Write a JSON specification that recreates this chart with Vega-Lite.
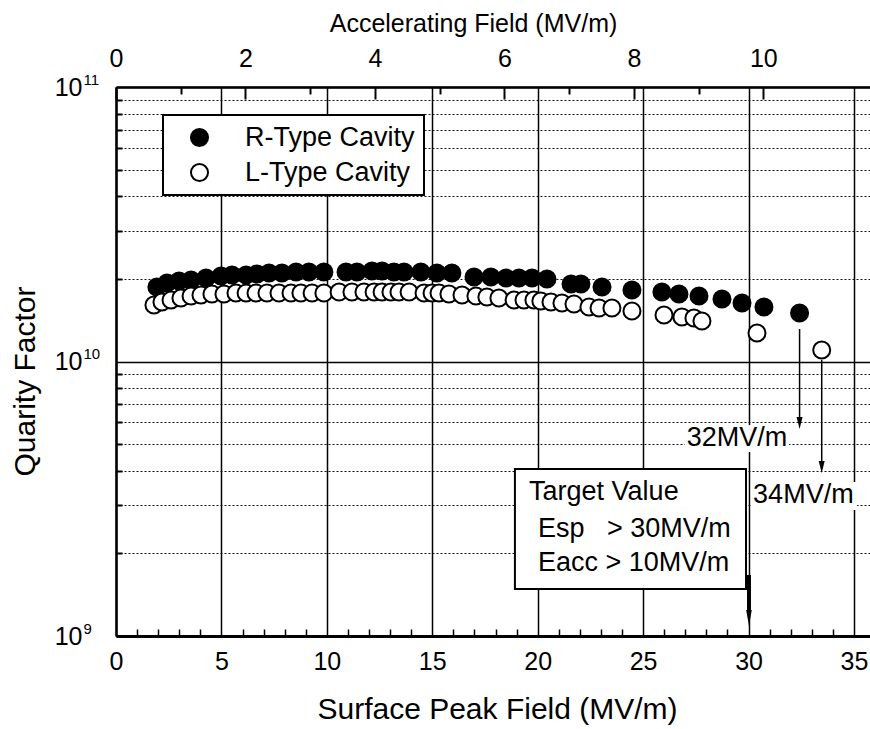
{
  "$schema": "https://vega.github.io/schema/vega-lite/v6.json",
  "width": 754,
  "height": 549,
  "autosize": {"type": "none"},
  "padding": {"left": 116, "top": 87, "right": 0, "bottom": 93},
  "background": "white",
  "config": {
    "view": {"stroke": null},
    "font": "Liberation Sans",
    "axis": {
      "labelFont": "Liberation Sans",
      "titleFont": "Liberation Sans",
      "labelColor": "black",
      "titleColor": "black",
      "titleFontWeight": "normal",
      "labelFlush": false,
      "labelOverlap": false,
      "domainColor": "black",
      "tickColor": "black",
      "gridColor": "black",
      "gridOpacity": 1
    },
    "text": {"font": "Liberation Sans", "color": "black"}
  },
  "datasets": {
    "pts": [
      {"esp": 1.94, "q": 1.868e10, "type": "R-Type Cavity"},
      {"esp": 2.42, "q": 1.932e10, "type": "R-Type Cavity"},
      {"esp": 2.99, "q": 1.965e10, "type": "R-Type Cavity"},
      {"esp": 3.56, "q": 1.981e10, "type": "R-Type Cavity"},
      {"esp": 4.27, "q": 2.015e10, "type": "R-Type Cavity"},
      {"esp": 4.98, "q": 2.049e10, "type": "R-Type Cavity"},
      {"esp": 5.50, "q": 2.066e10, "type": "R-Type Cavity"},
      {"esp": 6.17, "q": 2.066e10, "type": "R-Type Cavity"},
      {"esp": 6.69, "q": 2.084e10, "type": "R-Type Cavity"},
      {"esp": 7.26, "q": 2.101e10, "type": "R-Type Cavity"},
      {"esp": 7.87, "q": 2.101e10, "type": "R-Type Cavity"},
      {"esp": 8.54, "q": 2.119e10, "type": "R-Type Cavity"},
      {"esp": 9.15, "q": 2.119e10, "type": "R-Type Cavity"},
      {"esp": 9.86, "q": 2.119e10, "type": "R-Type Cavity"},
      {"esp": 10.91, "q": 2.119e10, "type": "R-Type Cavity"},
      {"esp": 11.43, "q": 2.119e10, "type": "R-Type Cavity"},
      {"esp": 12.14, "q": 2.137e10, "type": "R-Type Cavity"},
      {"esp": 12.62, "q": 2.137e10, "type": "R-Type Cavity"},
      {"esp": 13.18, "q": 2.119e10, "type": "R-Type Cavity"},
      {"esp": 13.66, "q": 2.119e10, "type": "R-Type Cavity"},
      {"esp": 14.46, "q": 2.119e10, "type": "R-Type Cavity"},
      {"esp": 15.22, "q": 2.101e10, "type": "R-Type Cavity"},
      {"esp": 15.93, "q": 2.101e10, "type": "R-Type Cavity"},
      {"esp": 16.98, "q": 2.032e10, "type": "R-Type Cavity"},
      {"esp": 17.78, "q": 2.032e10, "type": "R-Type Cavity"},
      {"esp": 18.50, "q": 2.015e10, "type": "R-Type Cavity"},
      {"esp": 19.11, "q": 2.015e10, "type": "R-Type Cavity"},
      {"esp": 19.73, "q": 2.015e10, "type": "R-Type Cavity"},
      {"esp": 20.44, "q": 1.998e10, "type": "R-Type Cavity"},
      {"esp": 21.58, "q": 1.916e10, "type": "R-Type Cavity"},
      {"esp": 22.05, "q": 1.916e10, "type": "R-Type Cavity"},
      {"esp": 23.05, "q": 1.868e10, "type": "R-Type Cavity"},
      {"esp": 24.47, "q": 1.822e10, "type": "R-Type Cavity"},
      {"esp": 25.89, "q": 1.791e10, "type": "R-Type Cavity"},
      {"esp": 26.70, "q": 1.762e10, "type": "R-Type Cavity"},
      {"esp": 27.65, "q": 1.732e10, "type": "R-Type Cavity"},
      {"esp": 28.74, "q": 1.689e10, "type": "R-Type Cavity"},
      {"esp": 29.69, "q": 1.633e10, "type": "R-Type Cavity"},
      {"esp": 30.73, "q": 1.580e10, "type": "R-Type Cavity"},
      {"esp": 32.42, "q": 1.502e10, "type": "R-Type Cavity"},
      {"esp": 1.80, "q": 1.606e10, "type": "L-Type Cavity"},
      {"esp": 2.18, "q": 1.647e10, "type": "L-Type Cavity"},
      {"esp": 2.61, "q": 1.675e10, "type": "L-Type Cavity"},
      {"esp": 3.08, "q": 1.703e10, "type": "L-Type Cavity"},
      {"esp": 3.56, "q": 1.732e10, "type": "L-Type Cavity"},
      {"esp": 4.03, "q": 1.747e10, "type": "L-Type Cavity"},
      {"esp": 4.55, "q": 1.762e10, "type": "L-Type Cavity"},
      {"esp": 5.12, "q": 1.762e10, "type": "L-Type Cavity"},
      {"esp": 5.69, "q": 1.776e10, "type": "L-Type Cavity"},
      {"esp": 6.17, "q": 1.776e10, "type": "L-Type Cavity"},
      {"esp": 6.64, "q": 1.776e10, "type": "L-Type Cavity"},
      {"esp": 7.16, "q": 1.776e10, "type": "L-Type Cavity"},
      {"esp": 7.73, "q": 1.776e10, "type": "L-Type Cavity"},
      {"esp": 8.30, "q": 1.776e10, "type": "L-Type Cavity"},
      {"esp": 8.77, "q": 1.776e10, "type": "L-Type Cavity"},
      {"esp": 9.30, "q": 1.776e10, "type": "L-Type Cavity"},
      {"esp": 9.86, "q": 1.776e10, "type": "L-Type Cavity"},
      {"esp": 10.58, "q": 1.791e10, "type": "L-Type Cavity"},
      {"esp": 11.19, "q": 1.791e10, "type": "L-Type Cavity"},
      {"esp": 11.76, "q": 1.791e10, "type": "L-Type Cavity"},
      {"esp": 12.24, "q": 1.791e10, "type": "L-Type Cavity"},
      {"esp": 12.62, "q": 1.791e10, "type": "L-Type Cavity"},
      {"esp": 13.04, "q": 1.791e10, "type": "L-Type Cavity"},
      {"esp": 13.42, "q": 1.791e10, "type": "L-Type Cavity"},
      {"esp": 13.90, "q": 1.791e10, "type": "L-Type Cavity"},
      {"esp": 14.61, "q": 1.776e10, "type": "L-Type Cavity"},
      {"esp": 14.99, "q": 1.776e10, "type": "L-Type Cavity"},
      {"esp": 15.32, "q": 1.776e10, "type": "L-Type Cavity"},
      {"esp": 15.79, "q": 1.762e10, "type": "L-Type Cavity"},
      {"esp": 16.41, "q": 1.747e10, "type": "L-Type Cavity"},
      {"esp": 17.07, "q": 1.732e10, "type": "L-Type Cavity"},
      {"esp": 17.59, "q": 1.718e10, "type": "L-Type Cavity"},
      {"esp": 18.16, "q": 1.703e10, "type": "L-Type Cavity"},
      {"esp": 18.88, "q": 1.675e10, "type": "L-Type Cavity"},
      {"esp": 19.35, "q": 1.675e10, "type": "L-Type Cavity"},
      {"esp": 19.82, "q": 1.675e10, "type": "L-Type Cavity"},
      {"esp": 20.15, "q": 1.661e10, "type": "L-Type Cavity"},
      {"esp": 20.63, "q": 1.647e10, "type": "L-Type Cavity"},
      {"esp": 21.15, "q": 1.633e10, "type": "L-Type Cavity"},
      {"esp": 21.72, "q": 1.620e10, "type": "L-Type Cavity"},
      {"esp": 22.43, "q": 1.580e10, "type": "L-Type Cavity"},
      {"esp": 22.91, "q": 1.566e10, "type": "L-Type Cavity"},
      {"esp": 23.52, "q": 1.566e10, "type": "L-Type Cavity"},
      {"esp": 24.47, "q": 1.527e10, "type": "L-Type Cavity"},
      {"esp": 25.99, "q": 1.477e10, "type": "L-Type Cavity"},
      {"esp": 26.84, "q": 1.452e10, "type": "L-Type Cavity"},
      {"esp": 27.41, "q": 1.440e10, "type": "L-Type Cavity"},
      {"esp": 27.79, "q": 1.405e10, "type": "L-Type Cavity"},
      {"esp": 30.40, "q": 1.270e10, "type": "L-Type Cavity"},
      {"esp": 33.47, "q": 1.101e10, "type": "L-Type Cavity"}
    ],
    "box": [
      {"x1": 18.92, "x2": 29.88, "y1": 1.483e9, "y2": 4.058e9}
    ],
    "labelbg": [
      {"x1": 26.98, "x2": 31.92, "y1": 4.68e9, "y2": 5.87e9},
      {"x1": 30.11, "x2": 35.14, "y1": 2.88e9, "y2": 3.64e9}
    ],
    "arrows": [
      {"esp": 32.42, "q1": 1.313e10, "q2": 6.122e9},
      {"esp": 33.47, "q1": 1.0127e10, "q2": 4.233e9}
    ],
    "heads": [
      {"esp": 32.42, "q": 5.970e9},
      {"esp": 33.47, "q": 4.128e9}
    ],
    "target": [
      {"esp": 30.02, "q1": 1.668e9, "q2": 1.223e9}
    ],
    "targethead": [
      {"esp": 30.02, "q": 1.163e9}
    ],
    "limits": [
      {"esp": 29.45, "q": 5.285e9, "text": "32MV/m"},
      {"esp": 32.6, "q": 3.264e9, "text": "34MV/m"}
    ],
    "targettext": [
      {"esp": 19.59, "q": 3.129e9, "text": "Target Value"},
      {"esp": 20.01, "q": 2.294e9, "text": "Esp\u00a0\u00a0 > 30MV/m"},
      {"esp": 20.01, "q": 1.725e9, "text": "Eacc > 10MV/m"}
    ]
  },
  "resolve": {"axis": {"x": "independent", "y": "independent"}},
  "layer": [
    {
      "data": {"name": "box"},
      "mark": {"type": "rect", "fill": "white", "stroke": "black", "strokeWidth": 2},
      "encoding": {
        "x": {"field": "x1", "type": "quantitative", "scale": {"domain": [0, 35.76], "nice": false, "zero": false},
          "axis": {"orient": "top", "values": [0, 6.14, 12.28, 18.42, 24.56, 30.7], "labelExpr": "format(datum.value/3.07,'.0f')", "tickSize": -12, "tickWidth": 2, "labelPadding": 28, "labelFontSize": 25, "grid": false, "domain": true, "domainWidth": 2.5, "title": "Accelerating Field (MV/m)", "titleFontSize": 25, "titleX": 357, "titleY": -56, "titleBaseline": "alphabetic", "titleAlign": "center", "titleAnchor": "middle"}},
        "x2": {"field": "x2"},
        "y": {"field": "y1", "type": "quantitative", "scale": {"type": "log", "domain": [1e9, 1e11], "nice": false},
          "axis": {"orient": "left", "values": [2e9, 3e9, 4e9, 5e9, 6e9, 7e9, 8e9, 9e9, 2e10, 3e10, 4e10, 5e10, 6e10, 7e10, 8e10, 9e10], "labels": false, "ticks": true, "tickSize": -6, "tickWidth": 2, "grid": true, "gridDash": [2, 2], "gridWidth": 1, "gridColor": "#111111", "domain": false, "title": null}},
        "y2": {"field": "y2"}
      }
    },
    {
      "data": {"name": "pts"},
      "mark": {"type": "point", "shape": "circle", "filled": true, "size": 290, "stroke": "black", "strokeWidth": 2, "opacity": 1},
      "encoding": {
        "x": {"field": "esp", "type": "quantitative", "scale": {"domain": [0, 35.76], "nice": false, "zero": false},
          "axis": {"orient": "bottom", "values": [0, 5, 10, 15, 20, 25, 30, 35], "ticks": false, "grid": true, "gridWidth": 1.5, "domain": true, "domainWidth": 3, "labelFontSize": 25, "labelPadding": 13, "title": "Surface Peak Field (MV/m)", "titleFontSize": 30, "titleX": 381, "titleY": 82, "titleBaseline": "alphabetic", "titleAlign": "center", "titleAnchor": "middle"}},
        "y": {"field": "q", "type": "quantitative", "scale": {"type": "log", "domain": [1e9, 1e11], "nice": false},
          "axis": {"orient": "left", "values": [1e9, 1e10, 1e11], "labelExpr": "'10'", "ticks": false, "grid": true, "gridWidth": 1.5, "domain": true, "domainWidth": 2.5, "labelFontSize": 25, "labelPadding": 34, "labelAlign": "right", "labelBaseline": "middle", "title": "Quarity Factor", "titleFontSize": 30, "titleAngle": -90, "titleX": -91, "titleY": 294, "titleAlign": "center", "titleBaseline": "middle", "titleAnchor": "middle"}},
        "fill": {"field": "type", "type": "nominal", "scale": {"domain": ["R-Type Cavity", "L-Type Cavity"], "range": ["black", "white"]},
          "legend": {"orient": "none", "legendX": 47, "legendY": 28, "title": null, "strokeColor": "black", "fillColor": "white", "padding": 9, "labelFontSize": 27, "labelFont": "Liberation Sans", "labelColor": "black", "labelLimit": 400, "symbolSize": 290, "symbolStrokeWidth": 2, "symbolStrokeColor": "black", "symbolType": "circle", "symbolOpacity": 1, "labelOffset": 32, "rowPadding": 7, "symbolOffset": 14, "encode": {"legend": {"update": {"strokeWidth": {"value": 2}}}, "entries": {"update": {"width": {"value": 264}}}}}}
      }
    },
    {
      "data": {"name": "pts"},
      "mark": {"type": "point", "opacity": 0},
      "encoding": {
        "x": {"field": "esp", "type": "quantitative", "scale": {"domain": [0, 35.76], "nice": false, "zero": false},
          "axis": {"orient": "bottom", "values": [1, 2, 3, 4, 6, 7, 8, 9, 11, 12, 13, 14, 16, 17, 18, 19, 21, 22, 23, 24, 26, 27, 28, 29, 31, 32, 33, 34], "labels": false, "ticks": true, "tickSize": -7, "tickWidth": 1.5, "grid": false, "domain": false, "title": null}},
        "y": {"field": "q", "type": "quantitative", "scale": {"type": "log", "domain": [1e9, 1e11], "nice": false},
          "axis": {"orient": "left", "values": [1e9, 1e10, 1e11], "labelExpr": "datum.value > 5e10 ? '11' : (datum.value > 5e9 ? '10' : '9')", "labelFontSize": 15, "labelAlign": "left", "labelBaseline": "middle", "labelOffset": -8, "labelPadding": 33, "ticks": false, "grid": false, "domain": false, "title": null}}
      }
    },
    {
      "data": {"name": "labelbg"},
      "mark": {"type": "rect", "fill": "white", "stroke": null},
      "encoding": {
        "x": {"field": "x1", "type": "quantitative", "scale": {"domain": [0, 35.76], "nice": false, "zero": false},
          "axis": {"orient": "top", "values": [3.07, 9.21, 15.35, 21.49, 27.63], "labels": false, "ticks": true, "tickSize": -7, "tickWidth": 2, "grid": false, "domain": false, "title": null}},
        "x2": {"field": "x2"},
        "y": {"field": "y1", "type": "quantitative", "scale": {"type": "log", "domain": [1e9, 1e11], "nice": false}, "axis": null},
        "y2": {"field": "y2"}
      }
    },
    {
      "data": {"name": "arrows"},
      "mark": {"type": "rule", "color": "black", "strokeWidth": 1.5},
      "encoding": {
        "x": {"field": "esp", "type": "quantitative", "scale": {"domain": [0, 35.76], "nice": false, "zero": false}, "axis": null},
        "y": {"field": "q1", "type": "quantitative", "scale": {"type": "log", "domain": [1e9, 1e11], "nice": false}, "axis": null},
        "y2": {"field": "q2"}
      }
    },
    {
      "data": {"name": "heads"},
      "mark": {"type": "point", "shape": "M-0.5,-1L0.5,-1L0,1Z", "filled": true, "color": "black", "size": 144, "opacity": 1},
      "encoding": {
        "x": {"field": "esp", "type": "quantitative", "scale": {"domain": [0, 35.76], "nice": false, "zero": false}, "axis": null},
        "y": {"field": "q", "type": "quantitative", "scale": {"type": "log", "domain": [1e9, 1e11], "nice": false}, "axis": null}
      }
    },
    {
      "data": {"name": "target"},
      "mark": {"type": "rule", "color": "black", "strokeWidth": 4},
      "encoding": {
        "x": {"field": "esp", "type": "quantitative", "scale": {"domain": [0, 35.76], "nice": false, "zero": false}, "axis": null},
        "y": {"field": "q1", "type": "quantitative", "scale": {"type": "log", "domain": [1e9, 1e11], "nice": false}, "axis": null},
        "y2": {"field": "q2"}
      }
    },
    {
      "data": {"name": "targethead"},
      "mark": {"type": "point", "shape": "M-0.35,-1L0.35,-1L0,1Z", "filled": true, "color": "black", "size": 256, "opacity": 1},
      "encoding": {
        "x": {"field": "esp", "type": "quantitative", "scale": {"domain": [0, 35.76], "nice": false, "zero": false}, "axis": null},
        "y": {"field": "q", "type": "quantitative", "scale": {"type": "log", "domain": [1e9, 1e11], "nice": false}, "axis": null}
      }
    },
    {
      "data": {"name": "limits"},
      "mark": {"type": "text", "align": "center", "baseline": "middle", "fontSize": 27, "font": "Liberation Sans", "color": "black"},
      "encoding": {
        "x": {"field": "esp", "type": "quantitative", "scale": {"domain": [0, 35.76], "nice": false, "zero": false}, "axis": null},
        "y": {"field": "q", "type": "quantitative", "scale": {"type": "log", "domain": [1e9, 1e11], "nice": false}, "axis": null},
        "text": {"field": "text"}
      }
    },
    {
      "data": {"name": "targettext"},
      "mark": {"type": "text", "align": "left", "baseline": "alphabetic", "fontSize": 27, "font": "Liberation Sans", "color": "black"},
      "encoding": {
        "x": {"field": "esp", "type": "quantitative", "scale": {"domain": [0, 35.76], "nice": false, "zero": false}, "axis": null},
        "y": {"field": "q", "type": "quantitative", "scale": {"type": "log", "domain": [1e9, 1e11], "nice": false}, "axis": null},
        "text": {"field": "text"}
      }
    }
  ]
}
